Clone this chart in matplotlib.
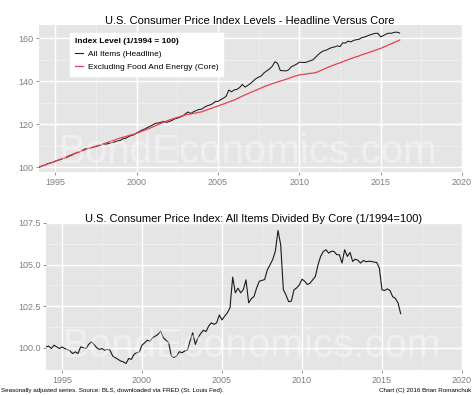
import numpy as np
import matplotlib.pyplot as plt

plt.rcParams['font.family'] = ['Liberation Sans', 'DejaVu Sans']

# bi-monthly readings, Jan 1994 to Mar 2016 (1/1994 = 100)
start_year = 1994

core = [
    100.0, 100.5, 101.0, 101.4, 101.9, 102.3,
    102.8, 103.3, 103.8, 104.3, 104.8, 105.4,
    105.9, 106.3, 106.8, 107.2, 107.7, 108.1,
    108.6, 109.0, 109.4, 109.8, 110.2, 110.6,
    111.0, 111.4, 111.9, 112.3, 112.7, 113.2,
    113.6, 114.0, 114.3, 114.7, 115.1, 115.4,
    115.8, 116.3, 116.8, 117.3, 117.8, 118.3,
    118.8, 119.3, 119.9, 120.4, 121.0, 121.5,
    122.0, 122.4, 122.8, 123.2, 123.6, 124.0,
    124.4, 124.6, 124.8, 125.1, 125.3, 125.6,
    125.8, 126.3, 126.7, 127.2, 127.6, 128.1,
    128.5, 129.0, 129.4, 129.9, 130.4, 130.8,
    131.3, 131.9, 132.5, 133.1, 133.7, 134.2,
    134.8, 135.3, 135.8, 136.4, 136.9, 137.5,
    138.0, 138.4, 138.9, 139.3, 139.7, 140.1,
    140.5, 140.9, 141.3, 141.8, 142.2, 142.6,
    143.0, 143.1, 143.3, 143.5, 143.7, 143.8,
    144.0, 144.5, 145.1, 145.6, 146.2, 146.7,
    147.2, 147.7, 148.2, 148.6, 149.1, 149.6,
    150.1, 150.5, 151.0, 151.4, 151.8, 152.3,
    152.7, 153.1, 153.6, 154.0, 154.4, 154.9,
    155.3, 155.9, 156.4, 157.0, 157.5, 158.1,
    158.6, 159.2,
]

# all items divided by core
ratio = [
    100.05, 100.10, 99.95, 100.15, 100.05, 99.95,
    100.05, 99.95, 99.90, 99.80, 99.65, 99.75,
    99.65, 100.05, 100.00, 99.95, 100.20, 100.35,
    100.20, 100.00, 99.90, 99.95, 99.85, 99.90,
    99.85, 99.50, 99.40, 99.30, 99.20, 99.15,
    99.05, 99.35, 99.30, 99.60, 99.70, 99.75,
    100.15, 100.30, 100.45, 100.40, 100.60, 100.70,
    100.80, 101.00, 100.60, 100.45, 100.30, 99.50,
    99.42, 99.50, 99.76, 99.70, 99.80, 99.85,
    100.40, 100.90, 100.20, 100.60, 100.85, 101.05,
    100.97, 101.30, 101.50, 101.40, 101.50, 101.97,
    101.67, 101.90, 102.10, 102.40, 104.24, 103.30,
    103.58, 103.30, 103.50, 104.08, 102.70, 102.95,
    103.08, 103.60, 104.00, 104.05, 104.10, 104.68,
    104.98, 105.30, 105.80, 107.05, 106.20, 103.50,
    103.17, 102.77, 102.80, 103.48, 103.60, 103.78,
    104.12, 104.00, 103.80, 103.88, 104.08, 104.28,
    104.98, 105.50, 105.79, 105.89, 105.69, 105.80,
    105.79, 105.60, 105.59, 105.09, 105.89, 105.49,
    105.73, 105.19, 105.33, 105.25, 105.09, 105.25,
    105.17, 105.20, 105.19, 105.15, 105.13, 104.79,
    103.48, 103.44, 103.54, 103.44, 103.07, 102.97,
    102.70, 102.05,
]

t = start_year + np.arange(len(core)) / 6.0
headline = np.array(core) * np.array(ratio) / 100.0

fig = plt.figure(figsize=(4.74, 3.95), dpi=100)
W, H = 474.0, 395.0
ax1 = fig.add_axes([39 / W, 1 - 172 / H, 423 / W, 147 / H])
ax2 = fig.add_axes([46 / W, 1 - 370 / H, 416 / W, 147 / H])


def style(ax, major_y, minor_y, ylim):
    ax.set_facecolor('#E5E5E5')
    for s in ax.spines.values():
        s.set_visible(False)
    ax.set_xlim(1994, 2020)
    ax.set_xticks([1995, 2000, 2005, 2010, 2015, 2020])
    ax.set_xticks([1997.5, 2002.5, 2007.5, 2012.5, 2017.5], minor=True)
    ax.set_yticks(major_y)
    ax.set_yticks(minor_y, minor=True)
    ax.set_ylim(*ylim)
    ax.grid(which='major', color='white', lw=1.0)
    ax.grid(which='minor', color='#F2F2F2', lw=0.5)
    ax.set_axisbelow(True)
    ax.tick_params(which='major', colors='#7F7F7F', labelsize=6.5,
                   length=2.5, width=0.6, pad=1.5)
    ax.tick_params(which='minor', length=0)


style(ax1, [100, 120, 140, 160], [110, 130, 150], (97.8, 166.2))
style(ax2, [100, 102.5, 105, 107.5], [101.25, 103.75, 106.25], (98.66, 107.5))
ax2.set_yticklabels(['100.0', '102.5', '105.0', '107.5'])

ax1.plot(t, headline, color='#1A1A1A', lw=0.75, label='All Items (Headline)')
ax1.plot(t, core, color='#E8414F', lw=0.9, label='Excluding Food And Energy (Core)')
ax2.plot(t, ratio, color='#1A1A1A', lw=0.8)

for ax, yb in ((ax1, 0.061), (ax2, 0.088)):
    ax.text(0.495, yb, 'BondEconomics.com', transform=ax.transAxes,
            ha='center', va='baseline', fontsize=29, color='white', alpha=0.4)

leg = ax1.legend(loc='upper left', bbox_to_anchor=((70 - 39) / 423, (172 - 33) / 147),
                 fontsize=6, title='Index Level (1/1994 = 100)', title_fontsize=6,
                 alignment='left', frameon=True, fancybox=False, framealpha=1,
                 borderaxespad=0, handlelength=0.9, handletextpad=0.6,
                 labelspacing=0.6, borderpad=0.6)
leg.get_frame().set_facecolor('white')
leg.get_frame().set_edgecolor('white')
leg.get_title().set_fontweight('bold')

fig.text(250 / W, 1 - 23.5 / H, 'U.S. Consumer Price Index Levels - Headline Versus Core',
         ha='center', va='baseline', fontsize=8)
fig.text(254 / W, 1 - 221.7 / H, 'U.S. Consumer Price Index: All Items Divided By Core (1/1994=100)',
         ha='center', va='baseline', fontsize=8)

fig.text(1 / W, 1 - 392 / H,
         'Seasonally adjusted series. Source: BLS, downloaded via FRED (St. Louis Fed).',
         ha='left', va='baseline', fontsize=4.5)
fig.text(471 / W, 1 - 392 / H, 'Chart (C) 2016 Brian Romanchuk',
         ha='right', va='baseline', fontsize=4.5)

fig.savefig('out.png', dpi=100, facecolor='white')
